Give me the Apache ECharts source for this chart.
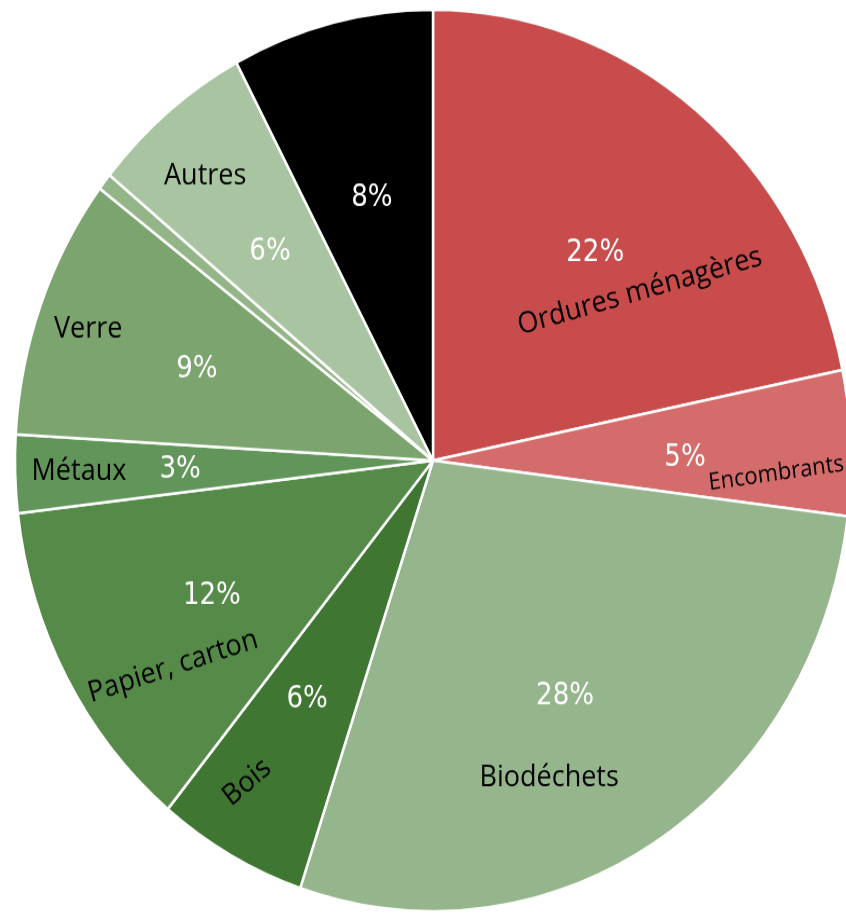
<!DOCTYPE html>
<html>
<head>
<meta charset="utf-8">
<script src="https://cdn.jsdelivr.net/npm/echarts@6/dist/echarts.min.js"></script>
<style>
  html, body { margin: 0; padding: 0; background: #ffffff; width: 846px; height: 914px; overflow: hidden; }
  #wrap { width: 846px; height: 914px; overflow: hidden; position: relative; }
  #chart { width: 846px; height: 848px; transform: scaleY(1.0785); transform-origin: 0 0; position: absolute; left: 0; top: 0; }
</style>
</head>
<body>
<div id="wrap"><div id="chart"></div></div>
<script>
// Data
const categories = ['Ordures ménagères', 'Encombrants', 'Biodéchets', 'Bois', 'Papier, carton', 'Métaux', 'Verre', 'Autre (mineur)', 'Autres', 'Non trié'];
const values = [21.8, 5.2, 28.2, 5.8, 12.2, 2.8, 9.4, 0.6, 6.3, 7.8];
const showName = [true, true, true, true, true, true, true, false, true, false];
const showPct = [true, true, true, true, true, true, true, false, true, true];

// Styles
const colors = ['#C94C4C', '#D46C6C', '#95B58C', '#3E7632', '#558A48', '#62955A', '#7CA46F', '#93B587', '#A9C4A0', '#000000'];
const CX = 433, CY = 427, R = 418;
// label placement: [dx/R, dy/R, rotate]
const pctPlace = [[0.388,-0.461,0],[0.603,-0.006,0],[0.316,0.523,0],[-0.301,0.530,0],[-0.529,0.301,0],[-0.605,0.020,0],[-0.565,-0.202,0],null,[-0.390,-0.463,0],[-0.146,-0.583,0]];
const namePlace = [[0.495,-0.375,15],[0.821,0.029,7.5],[0.278,0.703,0],[-0.445,0.714,39],[-0.622,0.457,17],[-0.847,0.024,0],[-0.825,-0.290,0],null,[-0.545,-0.630,0],null];
const nameSize = [27, 22, 27, 27, 27, 27, 27, 27, 27, 27];

function layoutFrom(place) {
  return function (params) {
    const p = place[params.dataIndex];
    if (!p) return {};
    return { x: CX + p[0] * R, y: CY + p[1] * R, rotate: p[2], align: 'center', verticalAlign: 'middle' };
  };
}

const pctData = categories.map((c, i) => ({
  name: c, value: values[i],
  itemStyle: { color: colors[i] },
  label: { show: showPct[i] }
}));
const nameData = categories.map((c, i) => ({
  name: c, value: values[i],
  label: { show: showName[i], fontSize: nameSize[i] }
}));

const chart = echarts.init(document.getElementById('chart'), null, { renderer: 'canvas' });
chart.setOption({
  animation: false,
  backgroundColor: '#ffffff',
  series: [
    {
      type: 'pie',
      center: [CX, CY],
      radius: [0, R],
      startAngle: 90,
      clockwise: true,
      avoidLabelOverlap: false,
      itemStyle: { borderColor: '#ffffff', borderWidth: 2.5 },
      label: {
        show: true, position: 'inside',
        formatter: p => Math.round(p.value) + '%',
        color: '#ffffff',
        fontFamily: '"DejaVu Sans Condensed", "DejaVu Sans", sans-serif',
        fontSize: 29
      },
      labelLine: { show: false },
      labelLayout: layoutFrom(pctPlace),
      emphasis: { disabled: true },
      data: pctData
    },
    {
      type: 'pie',
      center: [CX, CY],
      radius: [0, R],
      startAngle: 90,
      clockwise: true,
      silent: true,
      avoidLabelOverlap: false,
      itemStyle: { color: 'rgba(0,0,0,0)', borderWidth: 0 },
      label: {
        show: true, position: 'inside',
        formatter: p => p.name,
        color: '#000000',
        fontFamily: '"Open Sans", "Noto Sans", sans-serif',
        fontSize: 27
      },
      labelLine: { show: false },
      labelLayout: layoutFrom(namePlace),
      emphasis: { disabled: true },
      data: nameData
    }
  ]
});
</script>
</body>
</html>
